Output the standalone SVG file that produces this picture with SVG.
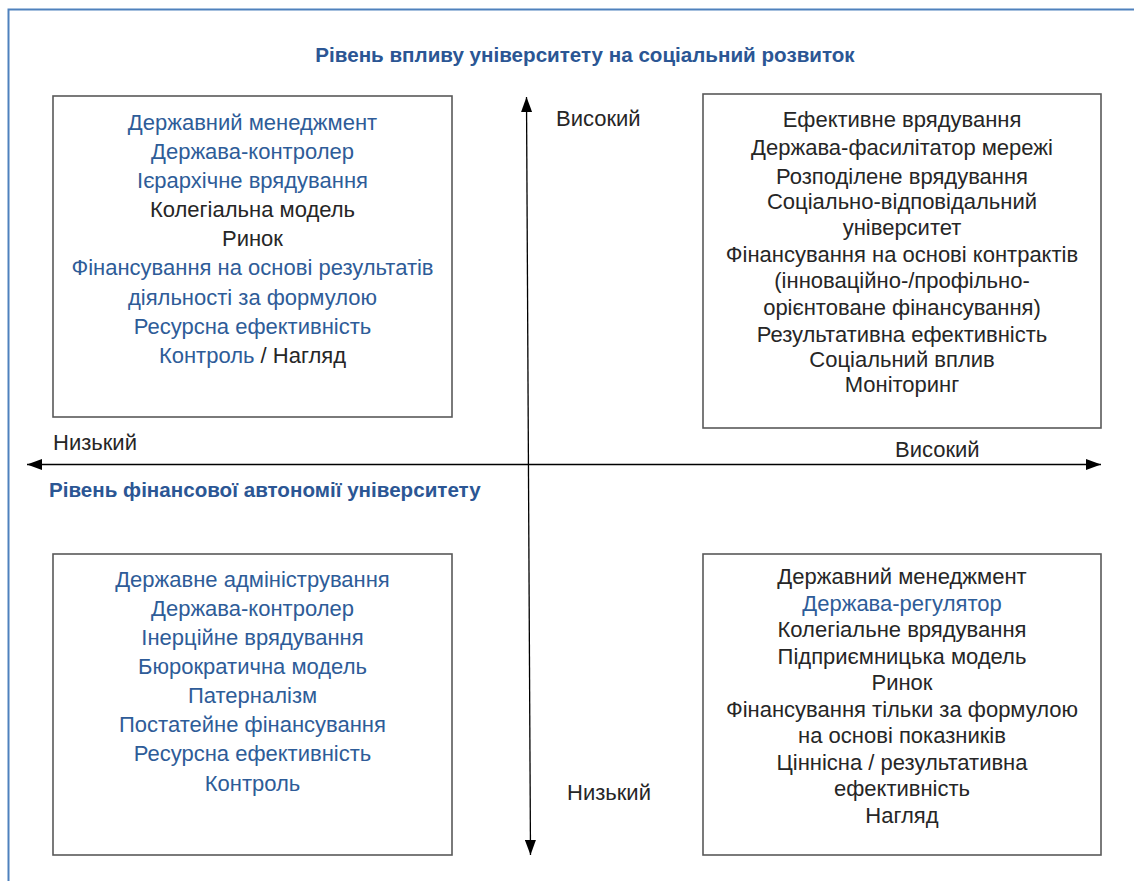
<svg xmlns="http://www.w3.org/2000/svg" width="1134" height="881" viewBox="0 0 1134 881">
<style>
  text { font-family: "Liberation Sans", "DejaVu Sans", sans-serif; font-size: 22px; fill: #262626; text-anchor: middle; }
  .b { fill: #2e5c98; }
  .t { font-weight: bold; fill: #2b5694; font-size: 20.6px; }
  .lab { text-anchor: start; }
  .box { fill: #ffffff; stroke: #595959; stroke-width: 1.6; }
  .axis { stroke: #000000; stroke-width: 1.3; fill: none; }
</style>
<defs>
  <marker id="ah" viewBox="0 0 15 11" refX="15" refY="5.5" markerWidth="15" markerHeight="11" markerUnits="userSpaceOnUse" orient="auto-start-reverse">
    <path d="M0,0 L15,5.5 L0,11 z" fill="#000000"/>
  </marker>
</defs>
<rect width="1134" height="881" fill="#ffffff"/>
<rect x="8.5" y="9.5" width="1140" height="890" fill="none" stroke="#4f81bd" stroke-width="2"/>

<text id="title" class="t" x="585" y="62">Рівень впливу університету на соціальний розвиток</text>

<g id="connectors">
  <line class="axis" x1="27" y1="464.5" x2="1101" y2="464.5" marker-start="url(#ah)" marker-end="url(#ah)"/>
  <line class="axis" x1="530.5" y1="855" x2="526.5" y2="97" marker-start="url(#ah)" marker-end="url(#ah)"/>
</g>

<g id="axis-labels">
  <text class="lab" x="556" y="126">Високий</text>
  <text class="lab" x="53" y="450">Низький</text>
  <text class="lab" x="895" y="457">Високий</text>
  <text class="lab" x="567" y="800">Низький</text>
  <text class="t lab" x="49" y="497">Рівень фінансової автономії університету</text>
</g>

<g id="node-top-left">
  <rect class="box" x="53" y="96" width="399" height="321"/>
  <text class="b" x="252.5" y="129.5">Державний менеджмент</text>
  <text class="b" x="252.5" y="158.5">Держава-контролер</text>
  <text class="b" x="252.5" y="187.5">Ієрархічне врядування</text>
  <text x="252.5" y="216.5">Колегіальна модель</text>
  <text x="252.5" y="246">Ринок</text>
  <text class="b" x="252.5" y="275">Фінансування на основі результатів</text>
  <text class="b" x="252.5" y="304.5">діяльності за формулою</text>
  <text class="b" x="252.5" y="333.5">Ресурсна ефективність</text>
  <text x="252.5" y="363"><tspan class="b">Контроль</tspan> / Нагляд</text>
</g>

<g id="node-top-right">
  <rect class="box" x="703" y="94" width="398" height="334"/>
  <text x="902" y="126.5">Ефективне врядування</text>
  <text x="902" y="155">Держава-фасилітатор мережі</text>
  <text x="902" y="183.5">Розподілене врядування</text>
  <text x="902" y="208.5">Соціально-відповідальний</text>
  <text x="902" y="235">університет</text>
  <text x="902" y="261.5">Фінансування на основі контрактів</text>
  <text x="902" y="288">(інноваційно-/профільно-</text>
  <text x="902" y="315">орієнтоване фінансування)</text>
  <text x="902" y="341.5">Результативна ефективність</text>
  <text x="902" y="367">Соціальний вплив</text>
  <text x="902" y="392">Моніторинг</text>
</g>

<g id="node-bottom-left">
  <rect class="box" x="53" y="554" width="399" height="301"/>
  <text class="b" x="252.5" y="586.5">Державне адміністрування</text>
  <text class="b" x="252.5" y="615.6">Держава-контролер</text>
  <text class="b" x="252.5" y="644.8">Інерційне врядування</text>
  <text class="b" x="252.5" y="673.9">Бюрократична модель</text>
  <text class="b" x="252.5" y="703.1">Патерналізм</text>
  <text class="b" x="252.5" y="732.2">Постатейне фінансування</text>
  <text class="b" x="252.5" y="761.3">Ресурсна ефективність</text>
  <text class="b" x="252.5" y="790.5">Контроль</text>
</g>

<g id="node-bottom-right">
  <rect class="box" x="703" y="554" width="398" height="301"/>
  <text x="902" y="584.3">Державний менеджмент</text>
  <text class="b" x="902" y="610.8">Держава-регулятор</text>
  <text x="902" y="637.3">Колегіальне врядування</text>
  <text x="902" y="663.8">Підприємницька модель</text>
  <text x="902" y="690.3">Ринок</text>
  <text x="902" y="716.8">Фінансування тільки за формулою</text>
  <text x="902" y="743.3">на основі показників</text>
  <text x="902" y="769.8">Ціннісна / результативна</text>
  <text x="902" y="796.3">ефективність</text>
  <text x="902" y="822.8">Нагляд</text>
</g>
</svg>
